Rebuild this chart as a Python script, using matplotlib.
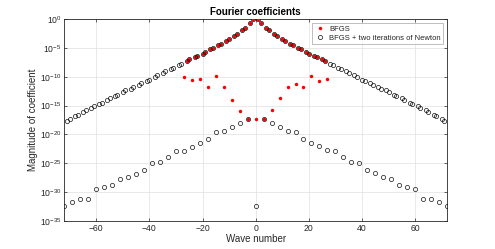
import numpy as np
import matplotlib
matplotlib.use("Agg")
import matplotlib.pyplot as plt
from matplotlib.ticker import FixedLocator, FuncFormatter, NullLocator

plt.rcParams['font.family'] = ['Liberation Sans', 'DejaVu Sans']
plt.rcParams['mathtext.fontset'] = 'custom'
plt.rcParams['mathtext.rm'] = 'Liberation Sans'
plt.rcParams['mathtext.it'] = 'Liberation Sans'

# ---- data (log10 of magnitude) ----
# upper branch: wave numbers not divisible by 3 (positive side; symmetric)
upper_k_pos = [1, 2, 4, 5, 7, 8, 10, 11, 13, 14, 16, 17, 19, 20, 22, 23, 25, 26,
               28, 29, 31, 32, 34, 35, 37, 38, 40, 41, 43, 44, 46, 47, 49, 50,
               52, 53, 55, 56, 58, 59, 61, 62, 64, 65, 67, 68, 70, 71]
upper_log_pos = [0.0, -0.7, -1.6, -1.9, -2.64, -2.9, -3.45, -3.8, -4.37, -4.6,
                 -5.06, -5.29, -5.8, -6.1, -6.4, -6.6, -6.95, -7.3,
                 -7.8, -8.05, -8.5, -8.75, -9.0, -9.3, -9.75, -10.05, -10.5, -10.75,
                 -11.1, -11.4, -11.8, -12.1, -12.3, -12.6, -13.1, -13.4, -13.75,
                 -14.0, -14.5, -14.8, -15.1, -15.4, -15.85, -16.15, -16.55, -16.8,
                 -17.3, -17.6]

# lower branch: wave numbers divisible by 3
lower_k = [-72, -69, -66, -63, -60, -57, -54, -51, -48, -45, -42, -39, -36, -33,
           -30, -27, -24, -21, -18, -15, -12, -9, -6, -3, 0,
           3, 6, 9, 12, 15, 18, 21, 24, 27, 30, 33, 36, 39, 42, 45, 48, 51, 54,
           57, 60, 63, 66, 69, 72]
lower_log = [-32.30, -31.67, -31.15, -31.15, -29.48, -29.02, -28.74, -27.70, -27.41,
             -26.78, -26.09, -24.88, -24.77, -23.97, -22.87, -22.82, -22.13, -21.50,
             -20.75, -19.54, -19.43, -18.74, -17.99, -17.24, -32.30,
             -17.24, -17.99, -18.68, -19.43, -19.54, -20.75, -21.44, -22.07, -22.76,
             -22.87, -23.97, -24.77, -24.88, -26.09, -26.72, -27.41, -27.64, -28.74,
             -29.02, -29.48, -31.15, -31.15, -31.61, -32.30]

# BFGS at multiples of 3 (noisy)
bfgs3_k = [-27, -24, -21, -18, -15, -12, -9, -6, -3, 0, 3, 6, 9, 12, 15, 18, 21, 24, 27]
bfgs3_log = [-10.06, -10.63, -10.34, -11.78, -9.94, -11.72, -14.08, -15.92, -17.24,
             -17.24, -17.24, -15.75, -13.73, -11.72, -11.21, -11.84, -9.89, -10.75, -10.34]
bfgs_kmax = 26

x_ticks = [-60, -40, -20, 0, 20, 40, 60]
y_exps = [0, -5, -10, -15, -20, -25, -30, -35]

# ---- assemble ----
up_k = np.array(upper_k_pos)
up_v = np.array(upper_log_pos)
upper_k = np.concatenate([-up_k[::-1], up_k])
upper_v = np.concatenate([up_v[::-1], up_v])

newton_k = np.concatenate([upper_k, np.array(lower_k)])
newton_v = 10.0 ** np.concatenate([upper_v, np.array(lower_log)])

mask = np.abs(upper_k) <= bfgs_kmax
bfgs_k = np.concatenate([upper_k[mask], np.array(bfgs3_k)])
bfgs_v = 10.0 ** np.concatenate([upper_v[mask], np.array(bfgs3_log)])

fig = plt.figure(figsize=(4.95, 2.49), dpi=100)
ax = fig.add_axes([0.130, 0.112, 0.773, 0.812])

ax.plot(bfgs_k, bfgs_v, 'o', ls='none', color='red', markeredgecolor='none',
        markersize=2.5, label='BFGS', zorder=3)
ax.plot(newton_k, newton_v, 'o', ls='none', markerfacecolor='none',
        markeredgecolor='#111111', markeredgewidth=0.5, markersize=3.0,
        label='BFGS + two iterations of Newton', zorder=4)

ax.set_yscale('log')
ax.set_xlim(-72, 72)
ax.set_ylim(1e-35, 1e0)
ax.set_xticks(x_ticks)
ax.yaxis.set_major_locator(FixedLocator([10.0 ** e for e in y_exps]))
ax.yaxis.set_major_formatter(FuncFormatter(
    lambda v, p: r'$10^{%d}$' % int(round(np.log10(v)))))
ax.yaxis.set_minor_locator(NullLocator())

gray = '#262626'
for s in ax.spines.values():
    s.set_color(gray)
    s.set_linewidth(0.6)
ax.tick_params(which='both', direction='in', top=True, right=True, length=2.5,
               width=0.5, color=gray, labelcolor=gray, labelsize=6.2, pad=2)
ax.grid(True, color='#e0e0e0', linewidth=0.5)
ax.set_axisbelow(True)

ax.set_title('Fourier coefficients', fontsize=7, fontweight='bold', pad=3)
ax.set_xlabel('Wave number', fontsize=7, color=gray, labelpad=1)
ax.set_ylabel('Magnitude of coefficient', fontsize=7, color=gray, labelpad=1)

leg = ax.legend(loc='upper right', fontsize=5.5, frameon=True, fancybox=False,
                edgecolor='#8c8c8c', borderpad=0.3, handletextpad=0.5,
                labelspacing=0.15, handlelength=1.4, borderaxespad=0,
                bbox_to_anchor=(0.99, 0.978))
leg.get_frame().set_linewidth(0.5)
for t in leg.get_texts():
    t.set_color(gray)

fig.savefig('out.png', dpi=100)
